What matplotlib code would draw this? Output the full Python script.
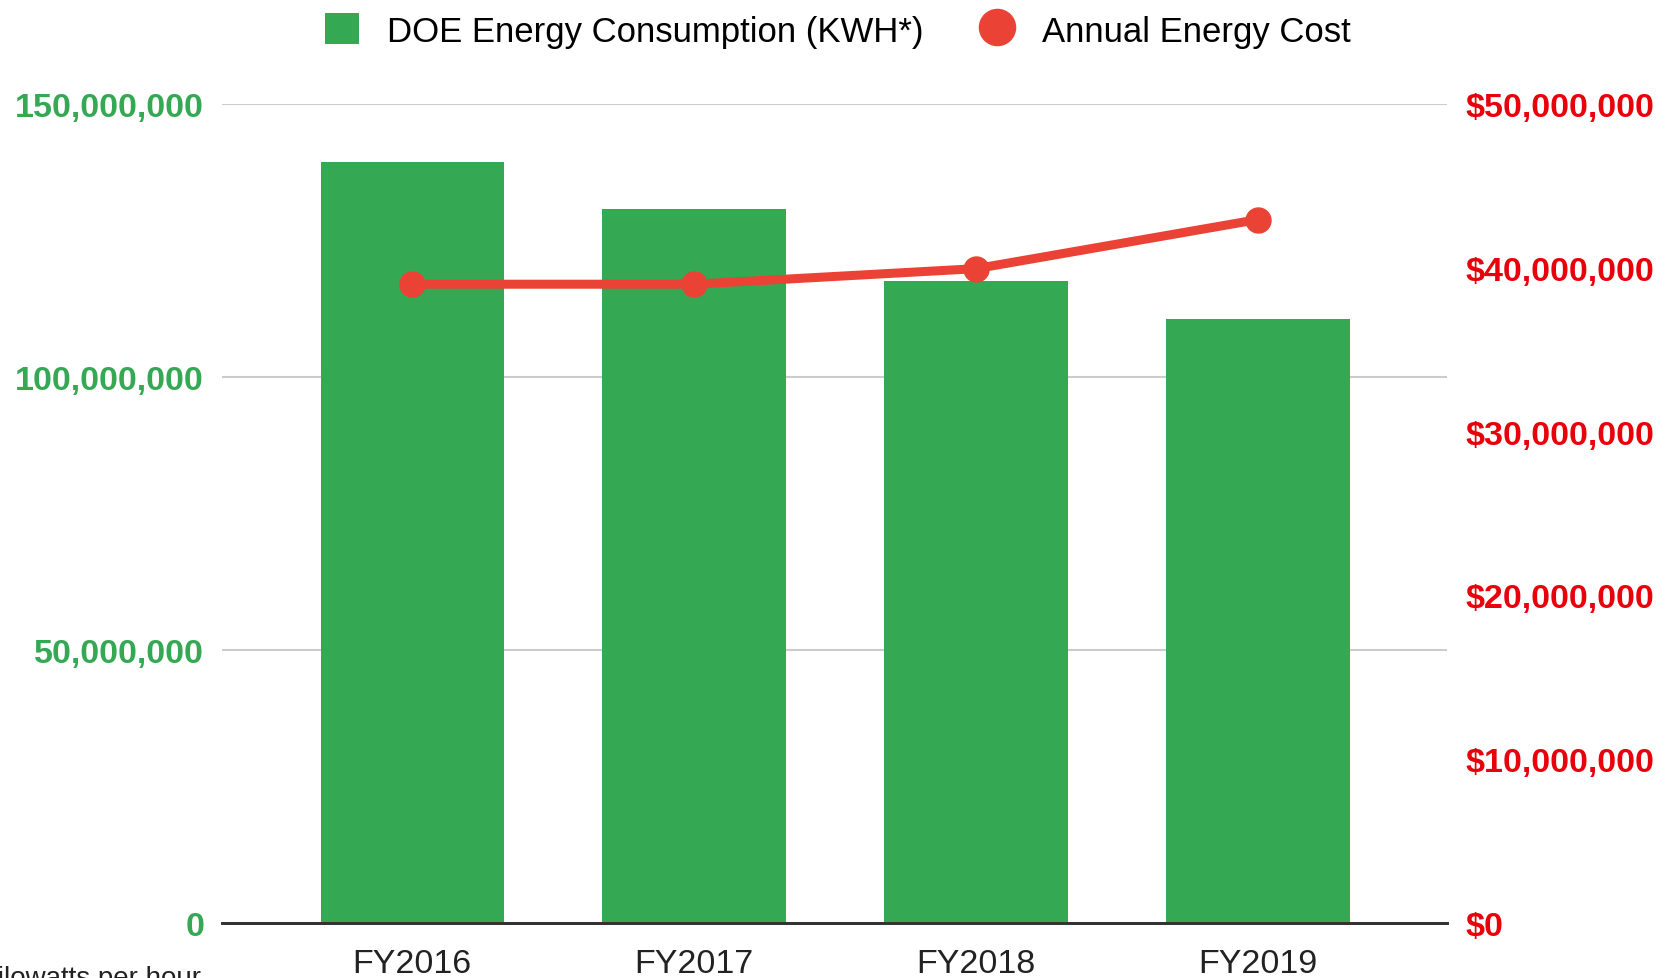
import matplotlib
matplotlib.use("Agg")
import matplotlib.pyplot as plt
from matplotlib.ticker import FuncFormatter, MultipleLocator
from matplotlib.lines import Line2D
from matplotlib.patches import Patch

plt.rcParams['font.family'] = ['Liberation Sans', 'DejaVu Sans']

# --- data ---
years = ["FY2016", "FY2017", "FY2018", "FY2019"]
kwh = [139400000, 130800000, 117500000, 110700000]
cost = [39000000, 39000000, 39950000, 42950000]

GREEN = "#34A853"
RED = "#EA4335"
RED_TXT = "#E8000B"

fig = plt.figure(figsize=(16.75, 9.79), dpi=100)
ax = fig.add_axes([0.1326, 0.0562, 0.7313, 0.8365])
ax2 = ax.twinx()

x = range(len(years))
ax.bar(x, kwh, width=0.65, color=GREEN, linewidth=0, zorder=2)
ax.set_ylim(0, 150000000)
ax.set_xlim(-0.674, 3.67)
ax.yaxis.set_major_locator(MultipleLocator(50000000))
ax.yaxis.set_major_formatter(FuncFormatter(lambda v, p: f"{int(v):,}"))
ax.grid(axis='y', color='#cccccc', linewidth=1.5, zorder=0)
ax.set_axisbelow(True)
ax.set_xticks(list(x))
ax.set_xticklabels(years, fontsize=24.5, color='#222222')
ax.tick_params(axis='x', length=0, pad=18)
ax.tick_params(axis='y', length=0, pad=13, labelsize=24.5, labelcolor=GREEN)
for lbl in ax.get_yticklabels():
    lbl.set_fontweight('bold')

ax2.plot(x, cost, color=RED, linewidth=6.5, marker='o', markersize=18,
         solid_capstyle='round', zorder=3)
ax2.set_ylim(0, 50000000)
ax2.yaxis.set_major_locator(MultipleLocator(10000000))
ax2.yaxis.set_major_formatter(FuncFormatter(lambda v, p: f"${int(v):,}"))
ax2.tick_params(axis='y', length=0, pad=13, labelsize=24.5, labelcolor=RED_TXT)
for lbl in ax2.get_yticklabels():
    lbl.set_fontweight('bold')

for a in (ax, ax2):
    for s in ('top', 'left', 'right'):
        a.spines[s].set_visible(False)
    a.spines['bottom'].set_color('#333333')
    a.spines['bottom'].set_linewidth(2)

handles = [
    Patch(facecolor=GREEN, edgecolor='none', label="DOE Energy Consumption (KWH*)"),
    Line2D([], [], color=RED, marker='o', linestyle='none', markersize=26,
           label="Annual Energy Cost"),
]
fig.legend(handles=handles, loc='center', bbox_to_anchor=(0.5, 0.968), ncol=2,
           frameon=False, fontsize=25, handlelength=1.0, handleheight=1.0,
           handletextpad=0.8, columnspacing=1.6)

fig.text(-0.016, 0.013, "*kilowatts per hour", fontsize=20, va='top', ha='left',
         color='#222222')

fig.savefig("out.png", dpi=100)
